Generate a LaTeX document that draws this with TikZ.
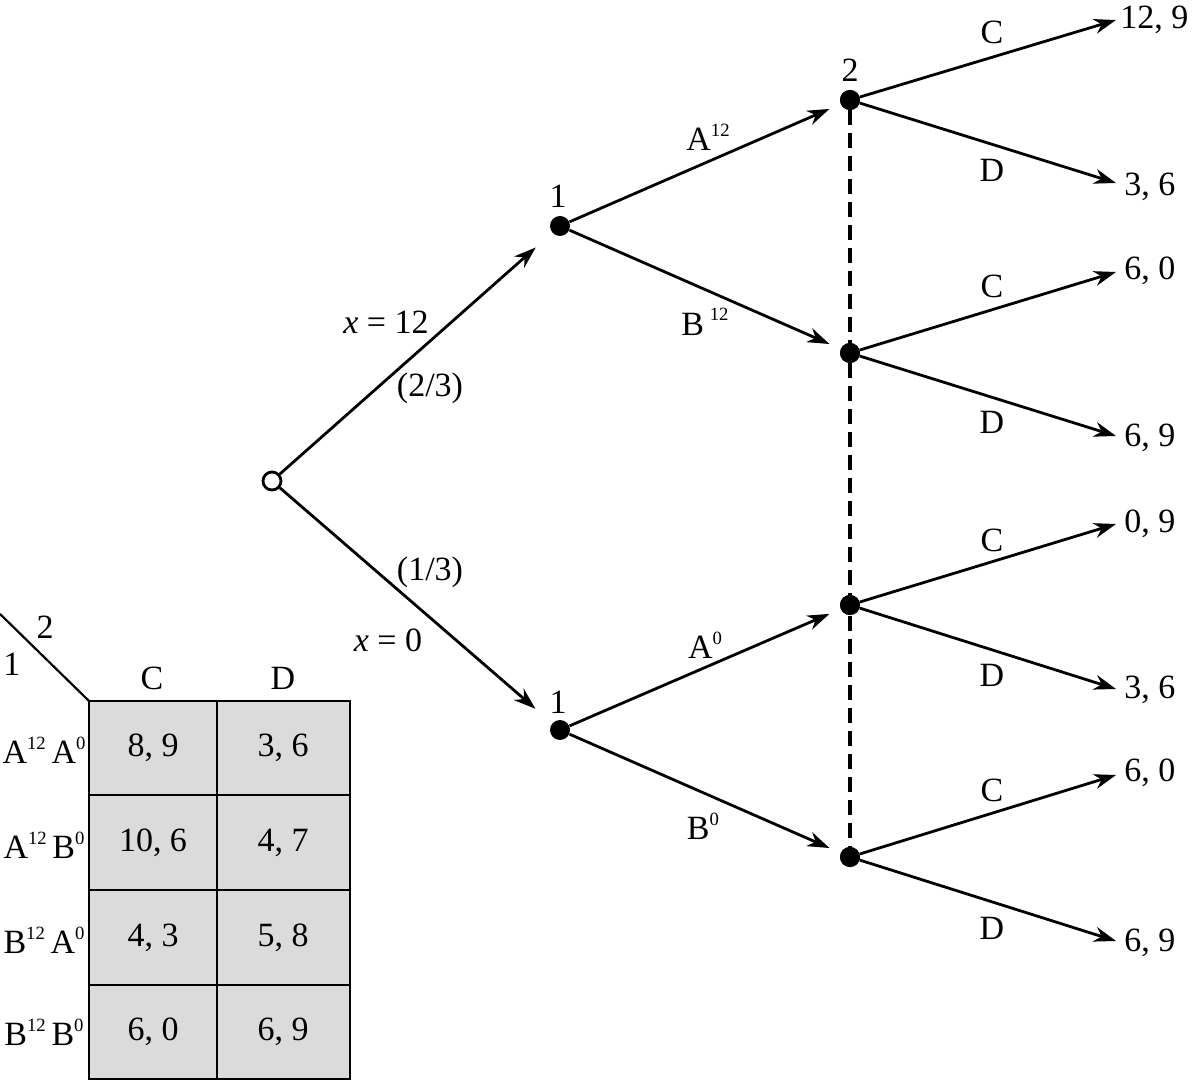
\documentclass[tikz,border=0pt]{standalone}
\usepackage{fontspec}
\setmainfont{Liberation Serif}
\usetikzlibrary{arrows.meta}
\newcommand{\spr}[1]{\raisebox{0.42em}{\scalebox{0.55}{#1}}}
\begin{document}
\begin{tikzpicture}[x=0.5pt,y=-0.5pt,
 lw/.style={line width=1.4pt},
 dotn/.style={circle,fill=black,inner sep=0pt,minimum size=10pt},
 chance/.style={circle,draw,line width=1.4pt,fill=white,inner sep=0pt,minimum size=9pt},
 arr/.style={lw,-{Stealth[length=11pt,width=7.5pt,inset=3.5pt]}},
 lbl/.style={font=\fontsize{17}{19}\selectfont,inner sep=0pt},
 tlbl/.style={font=\fontsize{17}{19}\selectfont,inner sep=0pt},
 cellbox/.style={draw,line width=1.1pt,fill=black!14},
]
\useasboundingbox (0,0) rectangle (1195,1080);
% nodes
\node[chance] (r) at (272,481) {};
\node[dotn] (a1) at (560,226) {};
\node[dotn] (b1) at (560,730) {};
\node[dotn] (c1) at (850,100) {};
\node[dotn] (c2) at (850,353) {};
\node[dotn] (c3) at (850,605) {};
\node[dotn] (c4) at (850,857) {};
% information set
\draw[line width=1.6pt,dash pattern=on 7.5pt off 4pt] (c1) -- (c4);
\node[dotn] at (c1) {};\node[dotn] at (c2) {};\node[dotn] at (c3) {};\node[dotn] at (c4) {};
% player labels
\node[lbl] (l2) at (850,70) {2};
\node[lbl] (l1a) at (558,196) {1};
\node[lbl] (l1b) at (558,702) {1};
% first-level arrows
\draw[arr,shorten >=11pt] (r) -- (a1);
\draw[arr,shorten >=11pt] (r) -- (b1);
\node[lbl] (xa) at (386,322) {\textit{x} = 12};
\node[lbl] (pa) at (430,388) {(2/3)};
\node[lbl] (pb) at (430,572) {(1/3)};
\node[lbl] (xb) at (388,640) {\textit{x} = 0};
% second-level arrows
\draw[arr,shorten >=6pt] (a1) -- (c1);
\draw[arr,shorten >=6pt] (a1) -- (c2);
\draw[arr,shorten >=6pt] (b1) -- (c3);
\draw[arr,shorten >=6pt] (b1) -- (c4);
\node[lbl] (la1) at (708,137) {A\spr{12}};
\node[lbl] (lb1) at (705,322) {B\,\spr{12}};
\node[lbl] (la0) at (705,645) {A\spr{0}};
\node[lbl] (lb0) at (703,826) {B\spr{0}};
% terminal arrows
\coordinate (t1) at (1116,20);
\coordinate (t2) at (1116,183);
\coordinate (t3) at (1116,272);
\coordinate (t4) at (1116,436);
\coordinate (t5) at (1116,524);
\coordinate (t6) at (1116,689);
\coordinate (t7) at (1116,775);
\coordinate (t8) at (1116,941);
\draw[arr] (c1) -- (t1);
\draw[arr] (c1) -- (t2);
\draw[arr] (c2) -- (t3);
\draw[arr] (c2) -- (t4);
\draw[arr] (c3) -- (t5);
\draw[arr] (c3) -- (t6);
\draw[arr] (c4) -- (t7);
\draw[arr] (c4) -- (t8);
\node[lbl] (lc1) at (992,32) {C};
\node[lbl] (ld1) at (992,170) {D};
\node[lbl] (lc2) at (992,286) {C};
\node[lbl] (ld2) at (992,422) {D};
\node[lbl] (lc3) at (992,540) {C};
\node[lbl] (ld3) at (992,675) {D};
\node[lbl] (lc4) at (992,790) {C};
\node[lbl] (ld4) at (992,928) {D};
\node[lbl,anchor=west] (p1) at (1120,20) {12, 9};
\node[lbl,anchor=west] (p2) at (1124,187) {3, 6};
\node[lbl,anchor=west] (p3) at (1124,271) {6, 0};
\node[lbl,anchor=west] (p4) at (1124,438) {6, 9};
\node[lbl,anchor=west] (p5) at (1124,524) {0, 9};
\node[lbl,anchor=west] (p6) at (1124,690) {3, 6};
\node[lbl,anchor=west] (p7) at (1124,773) {6, 0};
\node[lbl,anchor=west] (p8) at (1124,943) {6, 9};
% table
\draw[cellbox] (89,701) rectangle (217,795);
\draw[cellbox] (217,701) rectangle (350,795);
\draw[cellbox] (89,795) rectangle (217,890);
\draw[cellbox] (217,795) rectangle (350,890);
\draw[cellbox] (89,890) rectangle (217,985);
\draw[cellbox] (217,890) rectangle (350,985);
\draw[cellbox] (89,985) rectangle (217,1079);
\draw[cellbox] (217,985) rectangle (350,1079);
\draw[line width=1.1pt] (0,614) -- (89,701);
\node[tlbl] (h2) at (45,627) {2};
\node[tlbl] (h1) at (12,664) {1};
\node[tlbl] (hc) at (152,678) {C};
\node[tlbl] (hd) at (283,678) {D};
\node[tlbl] (r1) at (44,750) {A\spr{12}\,A\spr{0}};
\node[tlbl] (r2) at (44,845) {A\spr{12}\,B\spr{0}};
\node[tlbl] (r3) at (44,940) {B\spr{12}\,A\spr{0}};
\node[tlbl] (r4) at (44,1032) {B\spr{12}\,B\spr{0}};
\node[tlbl] (m11) at (153,748) {8, 9};
\node[tlbl] (m12) at (283,748) {3, 6};
\node[tlbl] (m21) at (153,843) {10, 6};
\node[tlbl] (m22) at (283,843) {4, 7};
\node[tlbl] (m31) at (153,938) {4, 3};
\node[tlbl] (m32) at (283,938) {5, 8};
\node[tlbl] (m41) at (153,1032) {6, 0};
\node[tlbl] (m42) at (283,1032) {6, 9};
\end{tikzpicture}
\end{document}
